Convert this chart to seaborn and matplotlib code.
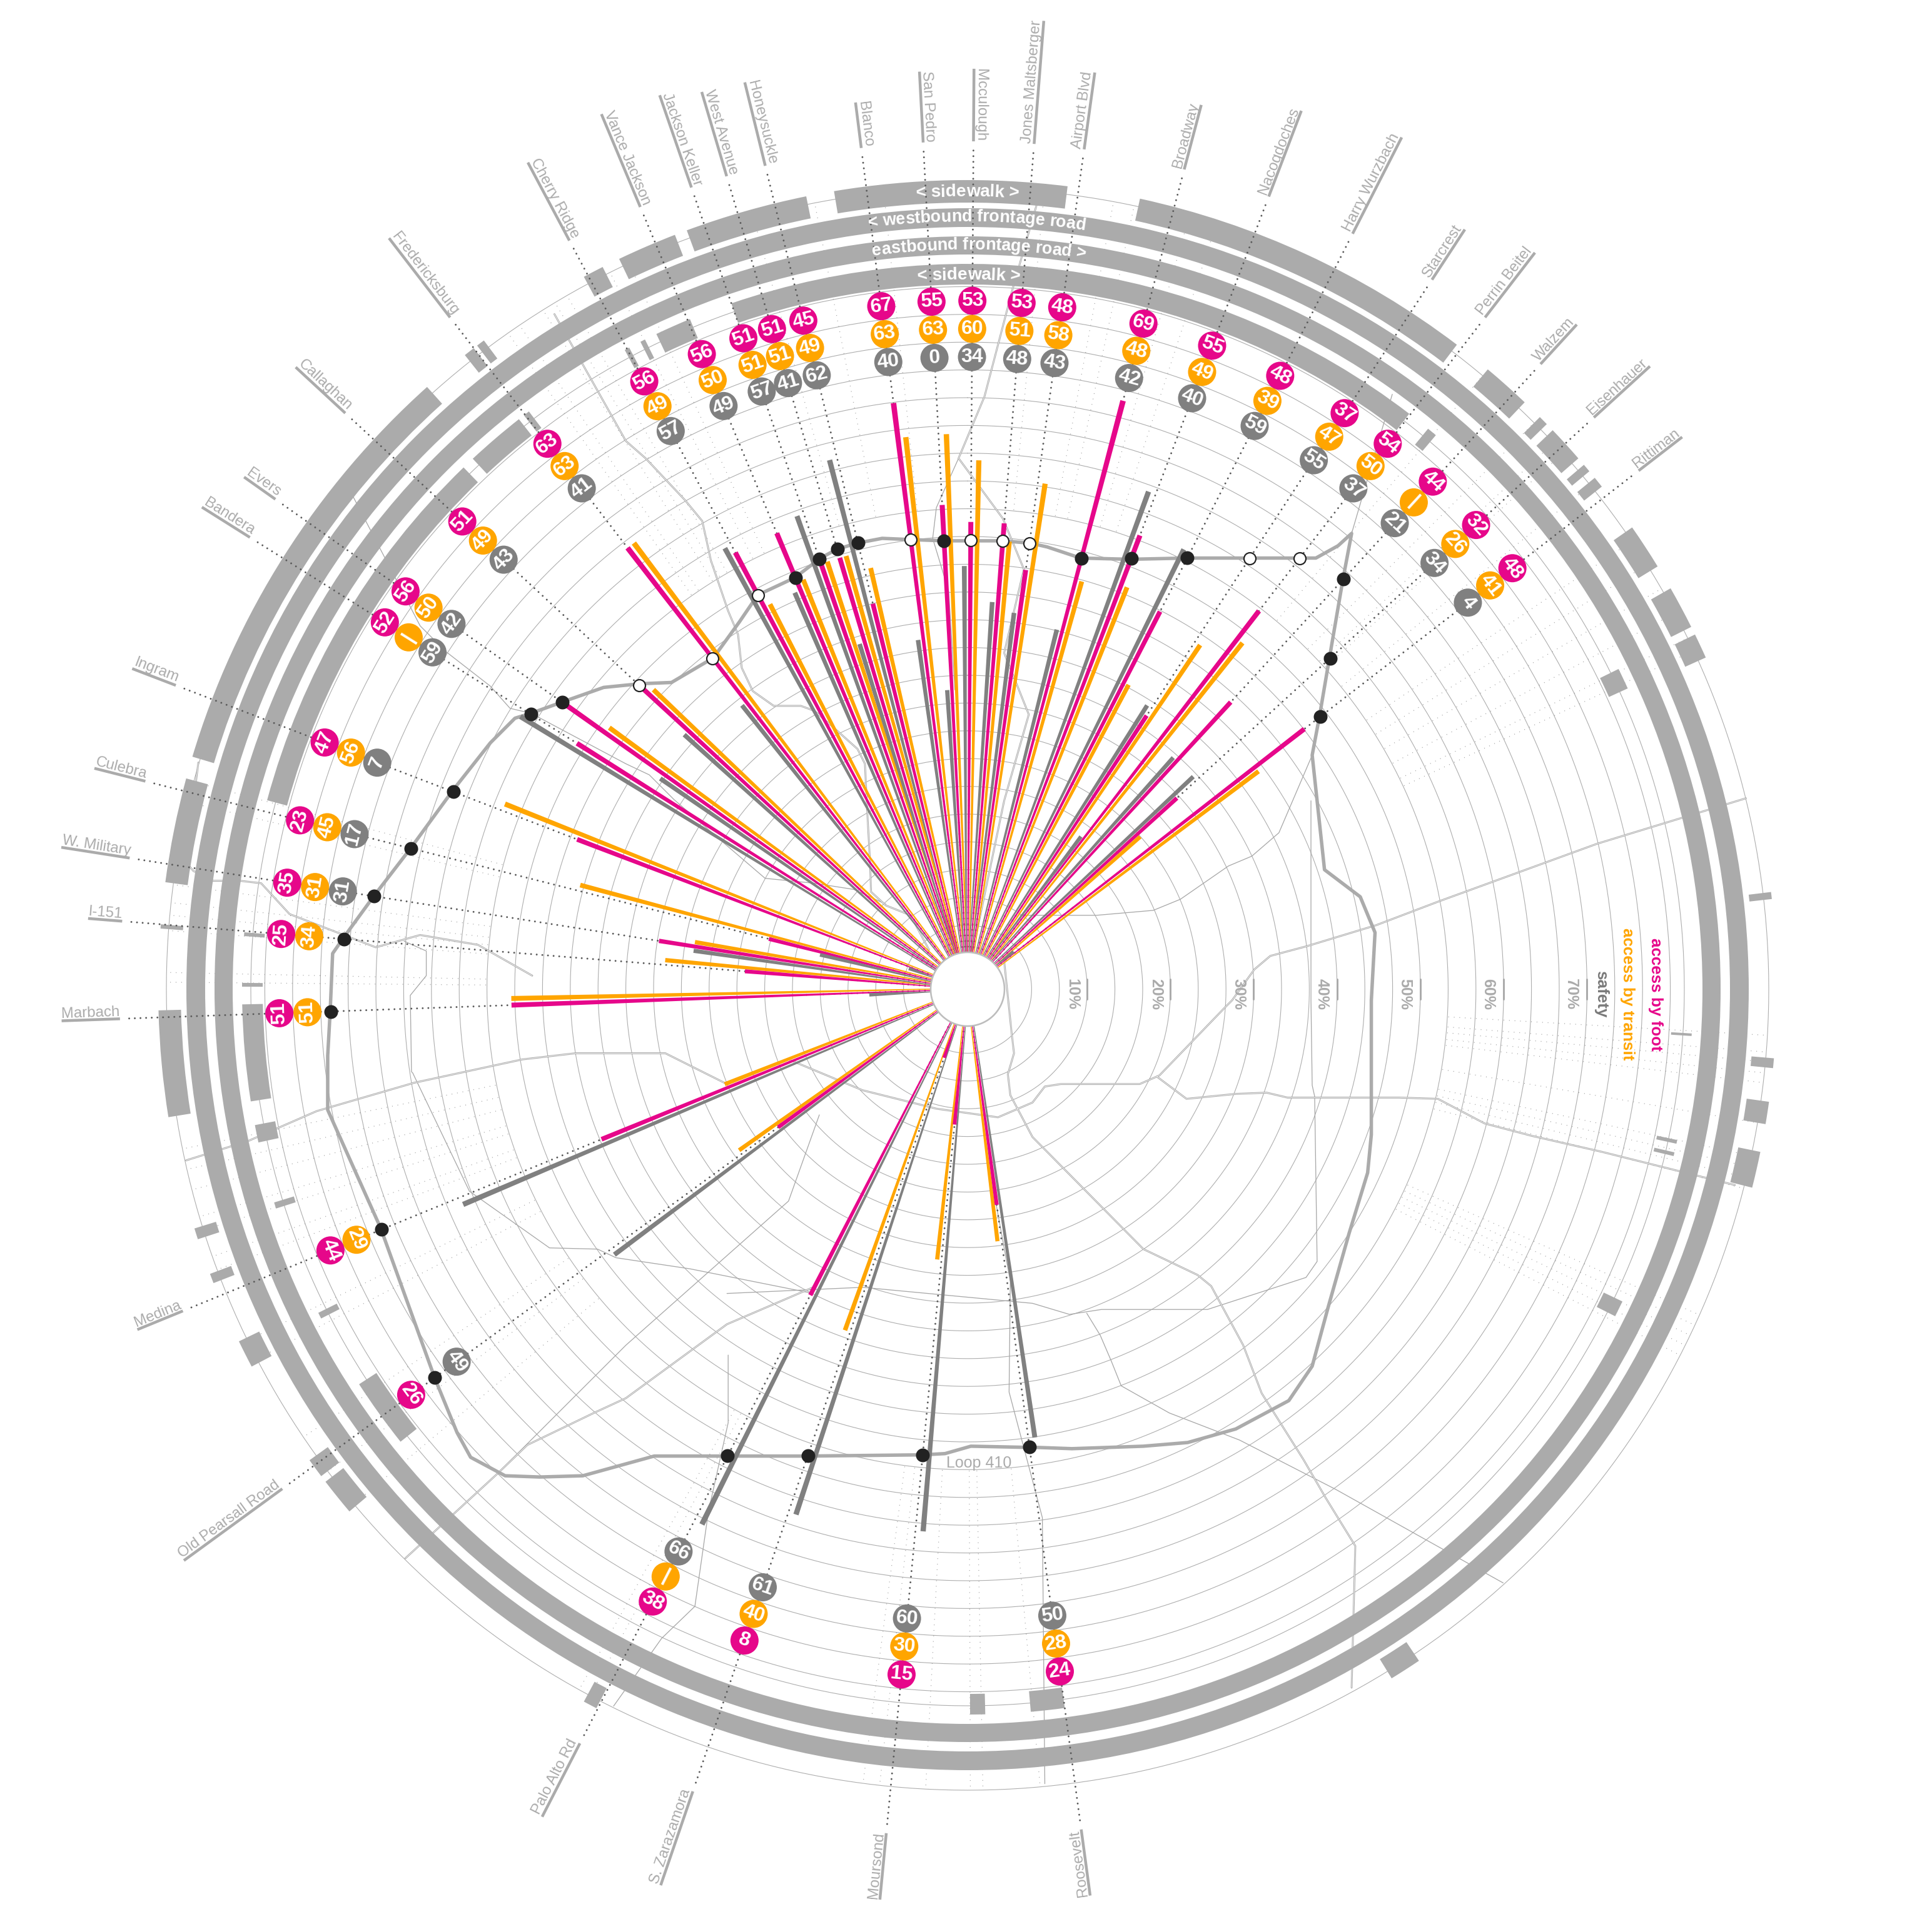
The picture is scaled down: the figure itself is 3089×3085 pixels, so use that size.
import numpy as np
import pandas as pd
import matplotlib
matplotlib.use("Agg")
import matplotlib.pyplot as plt
from matplotlib.font_manager import FontProperties
from matplotlib.textpath import text_to_path
import seaborn as sns

# ---------- data ----------
streets = ["Marbach","I-151","W. Military","Culebra","Ingram","Bandera","Evers","Callaghan",
           "Fredericksburg","Cherry Ridge","Vance Jackson","Jackson Keller","West Avenue","Honeysuckle",
           "Blanco","San Pedro","Mcculough","Jones Maltsberger","Airport Blvd","Broadway","Nacogdoches",
           "Harry Wurzbach","Starcrest","Perrin Beitel","Walzem","Eisenhauer","Rittiman","Roosevelt",
           "Moursond","S. Zarazamora","Palo Alto Rd","Old Pearsall Road","Medina"]
angles = [268,274.6,278.9,284.2,291,302.2,305.3,312.8,322.4,332,337.3,341,343.5,346.2,352.8,357,360.4,
          4.5,7.9,14.8,20.8,27,33.2,37.6,42.5,47.6,52.3,172.3,185.5,198.9,207.2,233.9,247.7]
foot = [51,25,35,23,47,52,56,51,63,56,56,51,51,45,67,55,53,53,48,69,55,48,37,54,44,32,48,24,15,8,38,26,44]
transit = [51,34,31,45,56,None,50,49,63,49,50,51,51,49,63,63,60,51,58,48,49,39,47,50,None,26,41,28,30,40,None,31,29]
# numbers printed in the safety badges
safety = [None,None,31,17,7,59,42,43,41,57,49,57,41,62,40,0,34,48,43,42,40,59,55,37,21,34,4,50,60,61,66,49,None]
# lengths of the grey spokes as drawn (they do not always agree with the badges)
safety_bar = [11,None,31,17,7,59,42,43,41,57,49,57,41,62,40,34,48,44,43,42,60,55.5,38,21.5,35,35,6.7,50,60,61,66,49,61]
no_badge = {("Old Pearsall Road","transit")}
dash_badge = ["Bandera","Walzem","Palo Alto Rd"]
open_dots = ["Callaghan","Fredericksburg","Cherry Ridge","Blanco","Mcculough","Jones Maltsberger",
             "Airport Blvd","Starcrest","Perrin Beitel"]
dot_radius = [1019,1000,961,918,881,825,794,715,668,714,713,728,734,735,725,718,718,719,720,713,737,774,
              823,870,890,785,713,739,748,788,839,1054,1013]

outer_walk = [(350.5,367.1),(372.3,397.2),(339.7,348.5),(334.5,338.8),(331.7,333.2),(321.6,322.4),(322.7,323.3),
              (286.7,318.1),(277.6,285.1),(260.9,268.5),(274.3,274.6),(252,252.8),(248.7,249.4),(242.2,244.2),
              (233,234.4),(229.8,232.5),(207.3,208.3),(146.1,148.4),(101.6,104.2),(98,99.6),(94.9,95.6),(83.1,83.6),
              (64,65.8),(60.3,63.4),(55.2,58.5),(50.8,51.6),(49.6,50.2),(46.3,49),(45,45.7),(40,43.5)]
inner_walk = [(341,397.5),(334.6,337.5),(333.2,333.6),(331.8,332.2),(285.1,316),(317,321.8),(322.3,322.8),
              (261.1,268.8),(257.8,259.2),(274.2,274.5),(270.2,270.5),(252.4,252.9),(243,243.5),(231.4,237),
              (178.6,179.8),(172.3,175),(115.5,116.8),(102,102.3),(103,103.3),(93.5,93.7),(63.8,65.5),(39.4,40.2)]

minor_rays = [93.3,94.5,95.2,96,96.7,99.6,102,102.8,103.6,104.4,114,114.8,115.6,116.4,117.2,174.8,178.9,179.8,
              183,186.3,187.5,208.1,209,230,233,236,242.5,244,249.5,250.5,252.5,253.5,255.5,257,258.5,270.5,271.2,
              274.2,275.3,276.2,277.5,283.5,285,325,326,328,329,330,333.5,335,344.5,349,354,365.5,370.5,372,376,
              378,400,405,407,408,411,416,418,420,422,424,425]

loop_road = [(279,761),(303,728),(333,689),(368,641),(398,603),(418,583),(431,579),(456,570),(490,558),(520,555),
             (545,554),(579,534),(600,505),(615,483),(645,469),(666,453),(679,446),(695,441),(716,437),(739,438),
             (766,439),(788,439),(814,439),(837,441),(850,444),(877,453),(917,454),(963,453),(1013,453),(1054,453),
             (1068,453),(1086,443),(1097,433),(1090,470),(1079,534),(1071,581),(1065,613),(1075,706),(1104,728),
             (1116,757),(1113,812),(1113,921),(1110,952),(1095,1001),(1078,1061),(1065,1109),(1046,1137),(1003,1160),
             (964,1171),(928,1174),(870,1176),(842,1175),(836,1175),(788,1174),(767,1180),(749,1181),(656,1182),
             (591,1182),(531,1182),(473,1198),(438,1199),(410,1198),(382,1183),(371,1163),(353,1119),(309,997),
             (266,901),(266,857),(268,821),(270,774),(279,761)]
highway_1 = [(1417,648),(1296,685),(1167,732),(1117,751),(1061,768),(1031,776),(1018,787),(1000,812),(995,817),(941,873),
             (925,880),(861,880),(848,882),(838,895),(810,907),(760,900),(700,885),(640,860),(590,880),(540,855),(467,855)]
highway_2 = [(1408,962),(1300,935),(1243,922),(1205,912),(1167,892),(1135,891),(1112,891),(1045,891),(1028,887),
             (1003,888),(963,892),(939,874)]
highway_3 = [(815,780),(821,838),(823,855),(818,872),(820,889),(838,923),(928,1014),(972,1035),(983,1044),(1009,1092),
             (1024,1131),(1058,1185),(1076,1216),(1100,1255),(1097,1370)]
highway_4 = [(151,942),(202,926),(257,902),(336,879),(424,860),(467,855)]
highway_5 = [(432,792),(388,767),(341,759),(305,769),(235,742),(212,717),(195,715),(173,715),(157,707),(151,700),(161,619)]
highway_6 = [(329,1265),(403,1197),(428,1173),(482,1147),(508,1135),(590,1075),(660,1045)]
highway_7 = [(450,255),(508,358),(524,372),(556,406),(570,423),(577,455),(591,496),(599,515),(602,542),(611,561),(628,573),
             (650,573),(661,577),(677,591),(696,608),(702,620),(704,661),(706,697),(707,724),(719,735),(739,743),(754,771)]
highway_8 = [(842,164),(822,234),(799,322),(778,372),(792,391),(814,421),(831,462),(815,530),(835,580),(815,650),(790,770)]
thin_1 = [(1064,650),(1064,812),(1065,881),(1067,890),(1069,1024),(1060,1037),(980,1063),(894,1063),(868,1067),
          (838,1058),(700,1045),(590,1050)]
thin_2 = [(882,1066),(893,1084),(902,1105),(910,1125),(949,1147),(1006,1169),(1084,1209),(1220,1285)]
thin_3 = [(328,764),(346,772),(346,792),(333,808),(334,870),(335,871),(381,967),(446,1013),(485,1014),(500,1021),(560,1030),(660,1050)]
thin_4 = [(329,1265),(403,1197),(508,1092),(640,975),(665,905)]
thin_5 = [(591,1100),(591,1155),(575,1227),(564,1304),(537,1330),(498,1385)]
thin_6 = [(808,975),(820,1040),(819,1130),(846,1232),(848,1448)]
thin_7 = [(778,372),(760,412),(757,437),(770,480),(775,560)]
thin_8 = [(285,400),(341,508),(362,529),(398,557),(414,575),(431,579),(508,620),(527,629),(547,649),(586,683),(621,713),
          (661,717),(693,722),(719,734)]
thin_9 = [(1130,320),(1097,433)]
thin_10 = [(1065,613),(1038,676),(1016,695),(997,703),(958,730),(936,739),(890,743),(828,743)]
double_roads = [highway_1,highway_2,highway_3,highway_4,highway_5,highway_6,highway_7,highway_8]
thin_roads = [thin_1,thin_2,thin_3,thin_4,thin_5,thin_6,thin_7,thin_8,thin_9,thin_10]

percent_ticks = [10,20,30,40,50,60,70]
legend_names = ["access by foot","access by transit","safety"]

# ---------- style ----------
FOOT, TRANSIT, SAFETY = "#E6078A", "#FFA500", "#808080"
ARC = "#ABABAB"; RING = "#ADADAD"; DARK = "#222222"; LABEL = "#ABABAB"; DOT = "#5A5A5A"
W, H, DPI = 3089, 3085, 100
CX, CY = 1547, 1582
PX = 14.1            # pixels per radial unit of the polar axes
RMAX = 100
HUB = 59

sns.set_theme(style="white")
plt.rcParams["font.family"] = ["Liberation Sans", "DejaVu Sans"]
pt = 72 / DPI        # pt per pixel

fig = plt.figure(figsize=(W / DPI, H / DPI), dpi=DPI, facecolor="white")
R = RMAX * PX
ax = fig.add_axes([(CX - R) / W, (H - CY - R) / H, 2 * R / W, 2 * R / H], projection="polar")
ax.set_theta_zero_location("N")
ax.set_theta_direction(-1)
ax.set_autoscale_on(False)
ax.set_ylim(0, RMAX)
ax.axis("off")

rad = np.deg2rad
def u(px):
    return px / PX

def map_to_polar(points):
    p = np.array(points, float)
    e = (p[:, 0] - 785.3) * 3089 / 1568
    s = (p[:, 1] - 803.0) * 3089 / 1568
    return np.arctan2(e, -s), u(np.hypot(e, s))

def text_w(s, size, weight="normal"):
    prop = FontProperties(family="Liberation Sans", size=size, weight=weight)
    return text_to_path.get_text_width_height_descent(s, prop, False)[0] / pt

def curved(s, center, r_px, size):
    total = text_w(s, size, "bold")
    for i, ch in enumerate(s):
        x = text_w(s[:i], size, "bold") + text_w(ch, size, "bold") / 2 - total / 2
        a = center + np.degrees(x / r_px)
        ax.text(rad(a), u(r_px), ch, color="white", fontsize=size, fontweight="bold", rotation=-a,
                rotation_mode="anchor", ha="center", va="baseline", zorder=9)

# rings
grid = np.linspace(0, 2 * np.pi, 721)
ring_px = [58 + 44.4 * k for k in range(1, 25)] + [1146, 1281]
for rp in ring_px:
    ax.plot(grid, np.full_like(grid, u(rp)), color=RING, lw=1.1 * pt, zorder=1, clip_on=False)

# minor dotted spokes
for a in minor_rays:
    ax.plot([rad(a)] * 2, [u(770), u(1275)], color="#A0A0A0", lw=1.3 * pt, ls=(0, (0.8, 6)), zorder=2, clip_on=False)

# map roads
for road in thin_roads:
    t, r = map_to_polar(road)
    ax.plot(t, r, color="#A8A8A8", lw=1.3 * pt, zorder=2, clip_on=False)
for road in double_roads:
    t, r = map_to_polar(road)
    ax.plot(t, r, color="#A4A4A4", lw=2.8 * pt, zorder=2, clip_on=False)
    ax.plot(t, r, color="white", lw=0.9 * pt, zorder=2.1, clip_on=False)

# frontage roads and sidewalks
ax.bar(np.pi, u(1249 - 1219), width=2 * np.pi, bottom=u(1219), color=ARC, lw=0, zorder=3, clip_on=False)
ax.bar(np.pi, u(1204 - 1175), width=2 * np.pi, bottom=u(1175), color=ARC, lw=0, zorder=3, clip_on=False)
for (a0, a1) in outer_walk:
    ax.bar(rad((a0 + a1) / 2), u(36), width=rad(a1 - a0), bottom=u(1258), color=ARC, lw=0, zorder=3, clip_on=False)
for (a0, a1) in inner_walk:
    ax.bar(rad((a0 + a1) / 2), u(33), width=rad(a1 - a0), bottom=u(1127), color=ARC, lw=0, zorder=3, clip_on=False)

# dotted street lines, from hub to label
for a in angles:
    ax.plot([rad(a)] * 2, [u(HUB), u(1350)], color=DOT, lw=3 * pt, ls=(0, (0.01, 3)),
            dash_capstyle="round", zorder=4, clip_on=False)

# loop 410
lt, lr = map_to_polar(loop_road)
sns.lineplot(x=lt, y=lr, sort=False, estimator=None, color="#ABABAB", lw=5.5 * pt, ax=ax, zorder=4.5,
             clip_on=False, legend=False)

# spokes: tapered bars for each street
bars = []
for a, f, tr, sf in zip(angles, foot, transit, safety_bar):
    bars.append((f, a, 0, FOOT))
    if tr:
        bars.append((tr, a, 1, TRANSIT))
    if sf:
        bars.append((sf, a, -1, SAFETY))
bars.sort(key=lambda b: -b[0])
for v, a, side, col in bars:
    t0 = rad(a)
    tip = v * (14.3 - 0.2 * np.cos(t0))
    w_end = min(2 + 0.06 * tip, 5 + 0.004 * tip)
    c0, c1 = side * (1.5 + 0.0125 * HUB), side * (1.5 + 0.0125 * tip)
    ths = [t0 + (c0 - 0.75) / HUB, t0 + (c0 + 0.75) / HUB, t0 + (c1 + w_end / 2) / tip, t0 + (c1 - w_end / 2) / tip]
    ax.fill(ths, [u(HUB), u(HUB), u(tip), u(tip)], color=col, lw=0, zorder=5, clip_on=False)

# hub
ax.fill(grid, np.full_like(grid, u(HUB)), facecolor="white", edgecolor="#BDBDBD", lw=2.6 * pt, zorder=5.5, clip_on=False)

# loop crossing dots
is_open = [s in open_dots for s in streets]
dots = pd.DataFrame({"t": rad(np.array(angles)), "r": u(np.array(dot_radius, float)), "open": is_open})
sns.scatterplot(data=dots[~dots.open], x="t", y="r", color=DARK, s=(22 * pt) ** 2, linewidth=0, ax=ax,
                zorder=6, clip_on=False, legend=False)
sns.scatterplot(data=dots[dots.open], x="t", y="r", color="white", edgecolor=DARK, s=(19 * pt) ** 2,
                linewidth=2.2 * pt, ax=ax, zorder=6, clip_on=False, legend=False)

# badges
rows = []
for name, a, f, tr, sf in zip(streets, angles, foot, transit, safety):
    rows.append((name, a, 1101, "foot", str(f)))
    if (name, "transit") not in no_badge:
        if tr is not None:
            rows.append((name, a, 1056, "transit", str(tr)))
        elif name in dash_badge:
            rows.append((name, a, 1056, "transit", "|"))
    if sf is not None:
        rows.append((name, a, 1011, "safety", str(sf)))
badges = pd.DataFrame(rows, columns=["street", "angle", "rpx", "kind", "txt"])
badges["t"] = rad(badges.angle)
badges["r"] = u(badges.rpx.astype(float))
sns.scatterplot(data=badges, x="t", y="r", hue="kind", palette={"foot": FOOT, "transit": TRANSIT, "safety": SAFETY},
                s=(45 * pt) ** 2, linewidth=0, ax=ax, zorder=7, clip_on=False, legend=False)
for _, b in badges.iterrows():
    a = b.angle
    rot = 360 - a if a >= 260 else (-a if a < 90 else 180 - a)
    ax.text(b.t, b.r, b.txt, color="white", fontsize=32 * pt, fontweight="bold", rotation=rot,
            rotation_mode="anchor", ha="center", va="center", zorder=8)

# street labels with underline
for name, a in zip(streets, angles):
    size = 24 * pt
    rot = 90 - a if a < 90 else 270 - a
    ha = "left" if a < 90 else "right"
    ax.text(rad(a), u(1356), name, color=LABEL, fontsize=size, rotation=rot, rotation_mode="anchor",
            ha=ha, va="bottom", zorder=8)
    ax.plot([rad(a)] * 2, [u(1356), u(1356 + text_w(name, size))], color=LABEL, lw=4.5 * pt, zorder=8, clip_on=False,
            solid_capstyle="butt")

# curved road captions
curved("< sidewalk >", 0.0, 1268, 28 * pt)
curved("< westbound frontage road", 0.7, 1228, 27 * pt)
curved("eastbound frontage road >", 0.9, 1183, 27 * pt)
curved("< sidewalk >", 0.1, 1135, 28 * pt)

# percent scale
for p in percent_ticks:
    k = p * 3 / 10
    rp = 58 + 44.4 * k
    half = 16 / rp
    ax.plot([rad(90) - half, rad(90) + half], [u(rp), u(rp)], color=ARC, lw=3 * pt, zorder=2, clip_on=False)
    lab = 168 + 132.8 * (p / 10 - 1)
    ax.text(rad(90) + 8 / lab, u(lab), f"{p}%", color=LABEL, fontsize=25 * pt, fontweight="bold", rotation=-90,
            rotation_mode="anchor", ha="center", va="center", zorder=8)

# legend in the axis gap
for txt, rp, col in zip(legend_names, [1100, 1055, 1013], [FOOT, TRANSIT, "#7A7A7A"]):
    ax.text(rad(90) + 8 / rp, u(rp), txt, color=col, fontsize=26 * pt, fontweight="bold", rotation=-90,
            rotation_mode="anchor", ha="center", va="center", zorder=8)

ax.text(rad(178.6), u(758), "Loop 410", color=LABEL, fontsize=25 * pt, ha="center", va="center", zorder=8)

ax.set_ylim(0, RMAX)
fig.savefig("out.png", dpi=DPI, facecolor="white")
